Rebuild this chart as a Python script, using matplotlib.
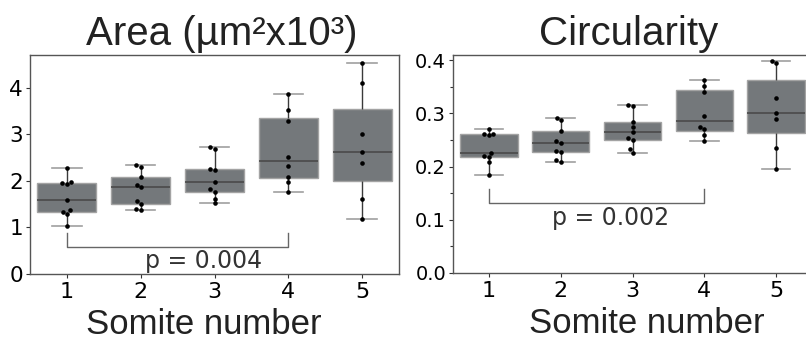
import matplotlib
matplotlib.use("Agg")
import matplotlib.pyplot as plt
from matplotlib.ticker import MultipleLocator
import pandas as pd
import seaborn as sns

# ── data ───────────────────────────────────────────────────────────────────
somites = ["1", "2", "3", "4", "5"]

area_1 = [2.27, 1.98, 1.95, 1.93, 1.58, 1.37, 1.34, 1.29, 1.04]
area_2 = [2.33, 2.30, 2.08, 1.92, 1.87, 1.57, 1.50, 1.40, 1.37]
area_3 = [2.72, 2.68, 2.26, 2.23, 1.98, 1.82, 1.77, 1.62, 1.52]
area_4 = [3.86, 3.52, 3.29, 2.52, 2.32, 2.08, 1.98, 1.77]
area_5 = [4.52, 4.09, 3.01, 2.61, 2.38, 1.62, 1.17]

circ_1 = [0.271, 0.262, 0.261, 0.259, 0.225, 0.220, 0.2175, 0.208, 0.184]
circ_2 = [0.292, 0.2875, 0.268, 0.248, 0.245, 0.230, 0.227, 0.2125, 0.209]
circ_3 = [0.316, 0.314, 0.284, 0.275, 0.266, 0.253, 0.251, 0.233, 0.226]
circ_4 = [0.3625, 0.352, 0.341, 0.296, 0.275, 0.271, 0.259, 0.248]
circ_5 = [0.399, 0.395, 0.330, 0.300, 0.289, 0.236, 0.195]

area_p = "p = 0.004"
circ_p = "p = 0.002"


def long_form(groups):
    rows = []
    for name, vals in zip(somites, groups):
        rows += [(name, v) for v in vals]
    return pd.DataFrame(rows, columns=["somite", "value"])


area_df = long_form([area_1, area_2, area_3, area_4, area_5])
circ_df = long_form([circ_1, circ_2, circ_3, circ_4, circ_5])

TITLE_FONT = "Liberation Sans"
box_kw = dict(
    width=0.8,
    color="#74787b",
    saturation=1,
    showfliers=False,
    boxprops=dict(edgecolor="#a3a3a3", linewidth=1.0),
    medianprops=dict(color="#4a4a4a", linewidth=1.2),
    whiskerprops=dict(color="#3a3a3a", linewidth=1.0),
    capprops=dict(color="#a0a0a0", linewidth=1.2),
)


def draw(ax, df, title, title_x, xlabel_x, ylim, ysize, bracket, ptext, ptext_xy):
    sns.boxplot(data=df, x="somite", y="value", order=somites, ax=ax, **box_kw)
    sns.swarmplot(data=df, x="somite", y="value", order=somites, ax=ax,
                  color="black", size=3.3)
    ax.set_xlim(-0.5, 4.5)
    ax.set_ylim(*ylim)
    ax.set_xlabel("")
    ax.set_ylabel("")
    # title and axis label placed by hand, as in the reference
    ax.text(title_x, 1.046, title, transform=ax.transAxes, ha="center",
            va="baseline", family=TITLE_FONT, fontsize=29, color="#222222")
    ax.text(xlabel_x, -0.276, "Somite number", transform=ax.transAxes,
            ha="center", va="baseline", family=TITLE_FONT, fontsize=25,
            color="#222222")
    ax.tick_params(length=3, width=0.8, colors="#333333",
                   labelcolor="black", pad=3)
    ax.tick_params(axis="x", labelsize=16)
    ax.tick_params(axis="y", labelsize=ysize, pad=2)
    for s in ax.spines.values():
        s.set_color("#555555")
        s.set_linewidth(1.0)
    # significance bracket between somite 1 and somite 4
    top, bot = bracket
    ax.plot([0, 0, 3, 3], [top, bot, bot, top], color="#666666", lw=1.0)
    ax.text(*ptext_xy, ptext, ha="center", va="center", fontsize=17,
            color="#333333")


fig = plt.figure(figsize=(8.06, 3.45), dpi=100)
ax1 = fig.add_axes([30 / 806, 71 / 345, 369 / 806, 219 / 345])
ax2 = fig.add_axes([453 / 806, 72 / 345, 359 / 806, 218 / 345])

draw(ax1, area_df, "Area (\u00b5m\u00b2x10\u00b3)", 0.519, 0.472, (0, 4.7), 15.5,
     (0.89, 0.585), area_p, (1.85, 0.28))
ax1.set_yticks([0, 1, 2, 3, 4])

draw(ax2, circ_df, "Circularity", 0.489, 0.539, (0, 0.41), 14,
     (0.1575, 0.1325), circ_p, (1.70, 0.1025))
ax2.set_yticks([0.0, 0.1, 0.2, 0.3, 0.4])
ax2.yaxis.set_minor_locator(MultipleLocator(0.05))
ax2.tick_params(axis="y", which="minor", length=2.5, width=0.8, colors="#333333")

fig.savefig("out.png", dpi=100)
